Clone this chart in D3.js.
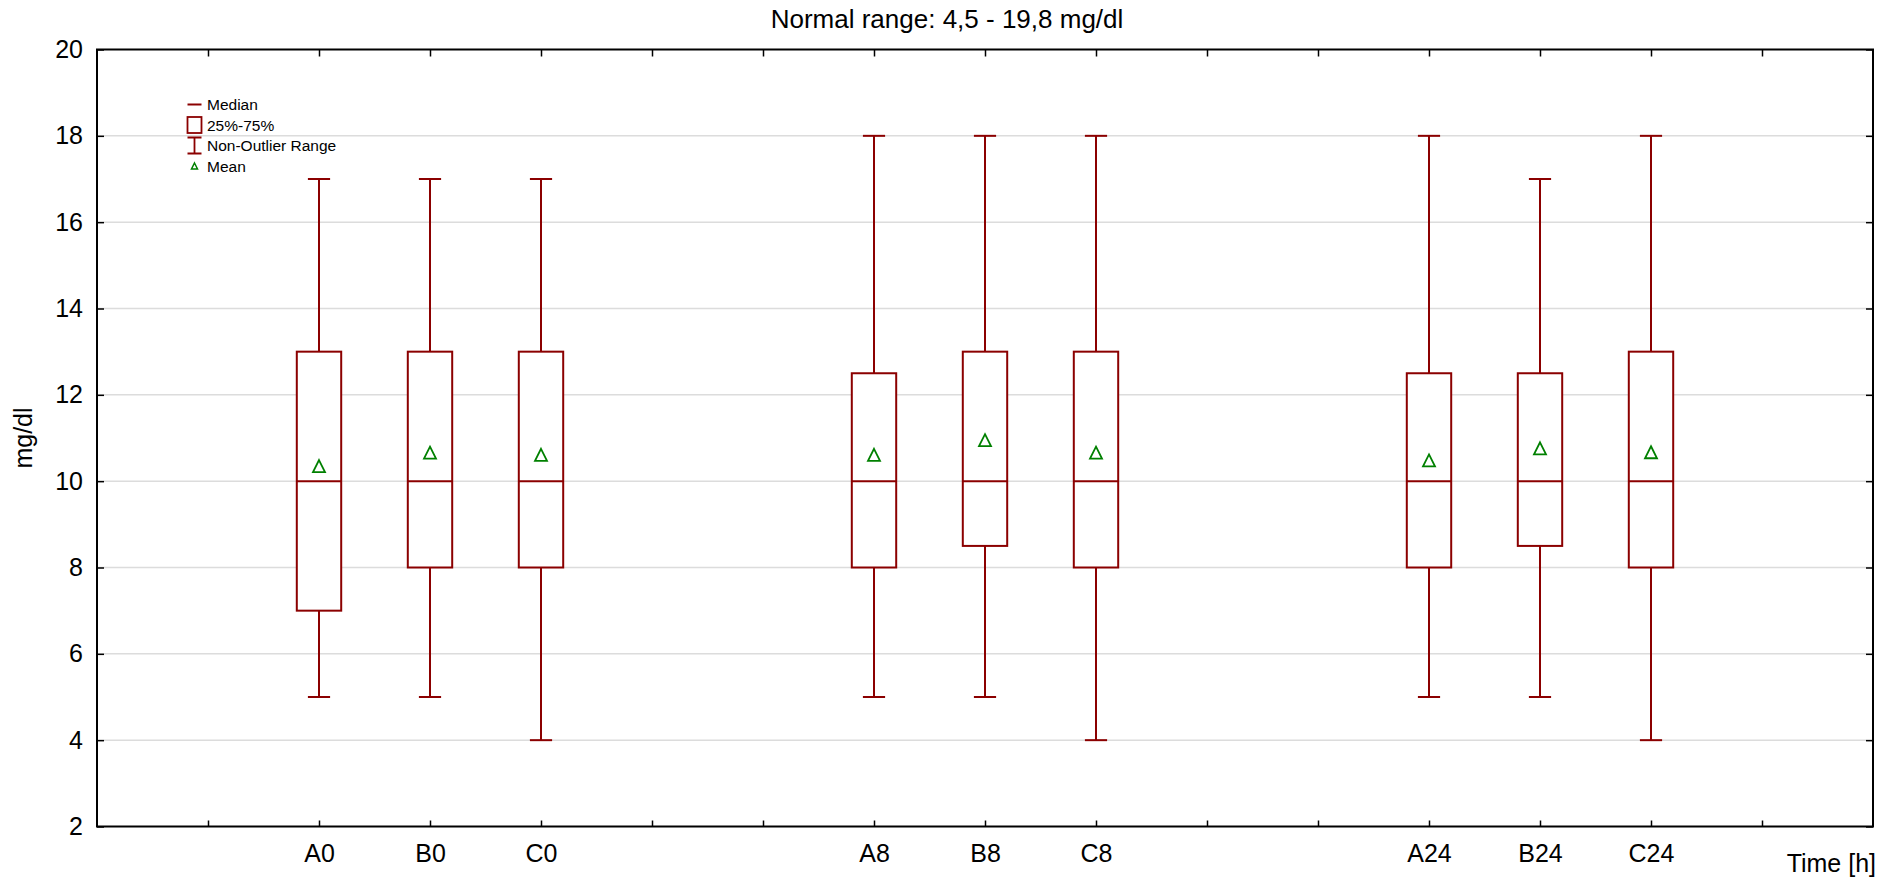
<!DOCTYPE html>
<html>
<head>
<meta charset="utf-8">
<script src="https://cdn.jsdelivr.net/npm/d3@7"></script>
<style>
  html, body { margin: 0; padding: 0; background: #fff; }
  svg { display: block; font-family: "Liberation Sans", Arial, Helvetica, sans-serif; }
</style>
</head>
<body>
<svg id="chart" width="1894" height="882"></svg>
<script>
// Box plot of mg/dl per group and time point
const categories = ["A0", "B0", "C0", "A8", "B8", "C8", "A24", "B24", "C24"];
const mins    = [5, 5, 4, 5, 5, 4, 5, 5, 4];
const q1s     = [7, 8, 8, 8, 8.5, 8, 8, 8.5, 8];
const medians = [10, 10, 10, 10, 10, 10, 10, 10, 10];
const q3s     = [13, 13, 13, 12.5, 13, 13, 12.5, 12.5, 13];
const maxs    = [17, 17, 17, 18, 18, 18, 18, 17, 18];
const means   = [10.35, 10.66, 10.61, 10.61, 10.95, 10.66, 10.48, 10.76, 10.67];
const yTicks  = [2, 4, 6, 8, 10, 12, 14, 16, 18, 20];
const legendItems = ["Median", "25%-75%", "Non-Outlier Range", "Mean"];
const titleText = "Normal range: 4,5 - 19,8 mg/dl";
const xTitle = "Time [h]";
const yTitle = "mg/dl";

const W = 1894, H = 882;
const plot = { left: 97, right: 1873, top: 49.5, bottom: 826.5 };
const boxColor = "#8b0000";
const meanColor = "#008000";
const gridColor = "#dcdcdc";
const fontSize = 25;

// Slots: 16 equal intervals, three groups of three boxes with two empty slots between groups
const slotCount = 16;
const groupSize = 3, groupStride = 5, firstSlot = 2;
const slotOf = i => firstSlot + Math.floor(i / groupSize) * groupStride + (i % groupSize);

const rows = categories.map((c, i) => ({
  cat: c, slot: slotOf(i), min: mins[i], q1: q1s[i], med: medians[i],
  q3: q3s[i], max: maxs[i], mean: means[i]
}));
const labelBySlot = new Map(rows.map(r => [r.slot, r.cat]));

const x = d3.scaleLinear().domain([0, slotCount]).range([plot.left, plot.right]);
const y = d3.scaleLinear().domain([d3.min(yTicks), d3.max(yTicks)]).range([plot.bottom, plot.top]);
const step = x(1) - x(0);
const boxW = step * 0.4;
const capW = step * 0.2;
const xTickValues = d3.range(1, slotCount);

const svg = d3.select("#chart");

// Horizontal grid lines
svg.append("g")
  .selectAll("line")
  .data(yTicks.filter(v => v > y.domain()[0] && v < y.domain()[1]))
  .join("line")
  .attr("x1", plot.left).attr("x2", plot.right)
  .attr("y1", d => y(d)).attr("y2", d => y(d))
  .attr("stroke", gridColor).attr("stroke-width", 1.5);

// Axes with inward ticks on all four sides
const styleAxis = g => {
  g.select(".domain").remove();
  g.selectAll(".tick line").attr("stroke", "#000").attr("stroke-width", 1.5);
  g.selectAll(".tick text").attr("fill", "#000").style("font-size", fontSize + "px");
};

svg.append("g")
  .attr("transform", `translate(0,${plot.bottom})`)
  .call(d3.axisBottom(x).tickValues(xTickValues).tickSize(-6).tickPadding(18)
    .tickFormat(v => labelBySlot.get(v) || ""))
  .call(styleAxis);

svg.append("g")
  .attr("transform", `translate(0,${plot.top})`)
  .call(d3.axisTop(x).tickValues(xTickValues).tickSize(-7).tickFormat(""))
  .call(styleAxis);

svg.append("g")
  .attr("transform", `translate(${plot.left},0)`)
  .call(d3.axisLeft(y).tickValues(yTicks).tickSize(-7).tickPadding(14).tickFormat(d3.format("d")))
  .call(styleAxis);

svg.append("g")
  .attr("transform", `translate(${plot.right},0)`)
  .call(d3.axisRight(y).tickValues(yTicks).tickSize(-7).tickFormat(""))
  .call(styleAxis);

// Plot frame
svg.append("rect")
  .attr("x", plot.left).attr("y", plot.top)
  .attr("width", plot.right - plot.left).attr("height", plot.bottom - plot.top)
  .attr("fill", "none").attr("stroke", "#000").attr("stroke-width", 2);

// Boxes
const boxes = svg.append("g").selectAll("g").data(rows).join("g");

boxes.append("line") // lower whisker
  .attr("x1", d => x(d.slot)).attr("x2", d => x(d.slot))
  .attr("y1", d => y(d.min)).attr("y2", d => y(d.q1));
boxes.append("line") // upper whisker
  .attr("x1", d => x(d.slot)).attr("x2", d => x(d.slot))
  .attr("y1", d => y(d.q3)).attr("y2", d => y(d.max));
boxes.append("line") // lower cap
  .attr("x1", d => x(d.slot) - capW / 2).attr("x2", d => x(d.slot) + capW / 2)
  .attr("y1", d => y(d.min)).attr("y2", d => y(d.min));
boxes.append("line") // upper cap
  .attr("x1", d => x(d.slot) - capW / 2).attr("x2", d => x(d.slot) + capW / 2)
  .attr("y1", d => y(d.max)).attr("y2", d => y(d.max));
boxes.append("rect") // interquartile box
  .attr("x", d => x(d.slot) - boxW / 2).attr("width", boxW)
  .attr("y", d => y(d.q3)).attr("height", d => y(d.q1) - y(d.q3))
  .attr("fill", "#fff");
boxes.append("line") // median
  .attr("x1", d => x(d.slot) - boxW / 2).attr("x2", d => x(d.slot) + boxW / 2)
  .attr("y1", d => y(d.med)).attr("y2", d => y(d.med));
boxes.selectAll("line, rect").attr("stroke", boxColor).attr("stroke-width", 2);

// Mean markers (open triangles)
const tri = (cx, cy, s) => {
  const h = s;
  return `M${cx},${cy - h / 2}L${cx + s / 2},${cy + h / 2}L${cx - s / 2},${cy + h / 2}Z`;
};
svg.append("g").selectAll("path").data(rows).join("path")
  .attr("d", d => tri(x(d.slot), y(d.mean), 12))
  .attr("fill", "none").attr("stroke", meanColor).attr("stroke-width", 1.8);

// Legend
const lg = svg.append("g").attr("transform", "translate(194.5,0)");
const legendY = [104.5, 125, 145.5, 166];
const lw = 14;
lg.append("line").attr("x1", -lw / 2).attr("x2", lw / 2)
  .attr("y1", legendY[0]).attr("y2", legendY[0])
  .attr("stroke", boxColor).attr("stroke-width", 2);
lg.append("rect").attr("x", -lw / 2).attr("y", legendY[1] - 8).attr("width", lw).attr("height", 16)
  .attr("fill", "none").attr("stroke", boxColor).attr("stroke-width", 1.8);
lg.append("path")
  .attr("d", `M${-lw / 2},${legendY[2] - 8}H${lw / 2}M0,${legendY[2] - 8}V${legendY[2] + 8}M${-lw / 2},${legendY[2] + 8}H${lw / 2}`)
  .attr("fill", "none").attr("stroke", boxColor).attr("stroke-width", 1.8);
lg.append("path").attr("d", tri(0, legendY[3], 6))
  .attr("fill", "none").attr("stroke", meanColor).attr("stroke-width", 1.5);
lg.selectAll("text.item").data(legendItems).join("text")
  .attr("class", "item")
  .attr("x", 12.5).attr("y", (d, i) => legendY[i])
  .attr("dy", "0.36em")
  .style("font-size", "15.5px").attr("fill", "#000")
  .text(d => d);

// Titles
svg.append("text")
  .attr("x", W / 2).attr("y", 28)
  .attr("text-anchor", "middle").style("font-size", "26px").attr("fill", "#000")
  .text(titleText);

svg.append("text")
  .attr("x", plot.right + 3).attr("y", 872)
  .attr("text-anchor", "end").style("font-size", fontSize + "px").attr("fill", "#000")
  .text(xTitle);

svg.append("text")
  .attr("transform", `translate(32,${(plot.top + plot.bottom) / 2}) rotate(-90)`)
  .attr("text-anchor", "middle").style("font-size", fontSize + "px").attr("fill", "#000")
  .text(yTitle);
</script>
</body>
</html>
